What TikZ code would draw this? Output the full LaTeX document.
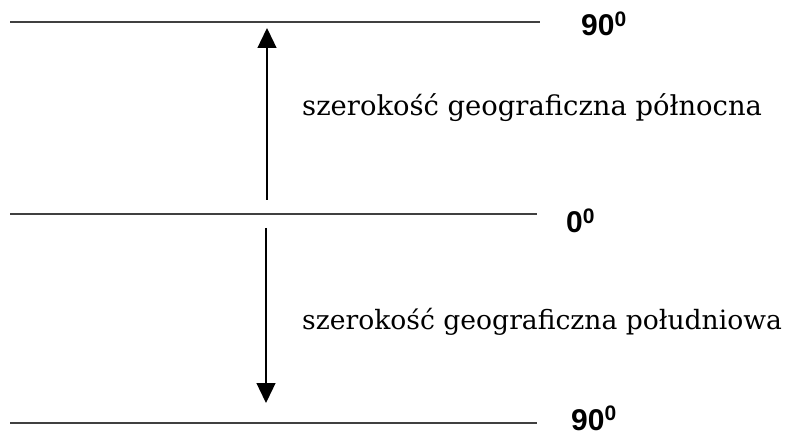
\documentclass[tikz,border=0pt]{standalone}
\usepackage{fontspec}
\setmainfont{DejaVu Serif}
\newfontfamily\degfont{Liberation Sans}
\usetikzlibrary{arrows.meta}

\begin{document}
\begin{tikzpicture}[x=1pt, y=-1pt,
    parallel/.style={draw=black!75, line width=1.3pt},
    latarrow/.style={line width=1.3pt, -{Triangle[length=20pt,width=19pt]}},
    deg/.style={anchor=base west, inner sep=0pt, font=\degfont\bfseries\fontsize{30}{34}\selectfont},
    latname/.style={anchor=base west, inner sep=0pt, font=\fontsize{#1}{32}\selectfont},
    latname/.default=27.4]
    \useasboundingbox (0,0) rectangle (789,435);
    % the three parallels
    \coordinate (northW) at (10,22);
    \coordinate (northE) at (540,22);
    \coordinate (equW) at (10,214);
    \coordinate (equE) at (537,214);
    \coordinate (southW) at (10,423);
    \coordinate (southE) at (537,423);
    \draw [parallel] (northW) -- (northE);
    \draw [parallel] (equW) -- (equE);
    \draw [parallel] (southW) -- (southE);
    % degree labels
    \node [deg] (north90) at (581,36) {90\textsuperscript{0}};
    \node [deg] (equ0) at (566,233) {0\textsuperscript{0}};
    \node [deg] (south90) at (571,430) {90\textsuperscript{0}};
    % arrows
    \coordinate (upFrom) at (267,200);
    \coordinate (upTo) at (267,28);
    \coordinate (downFrom) at (266,228);
    \coordinate (downTo) at (266,403);
    \draw [latarrow] (upFrom) -- (upTo);
    \draw [latarrow] (downFrom) -- (downTo);
    % names of the latitudes
    \node [latname] (northName) at (302,116) {szerokość geograficzna północna};
    \node [latname=26.6] (southName) at (302,330) {szerokość geograficzna południowa};
\end{tikzpicture}
\end{document}
